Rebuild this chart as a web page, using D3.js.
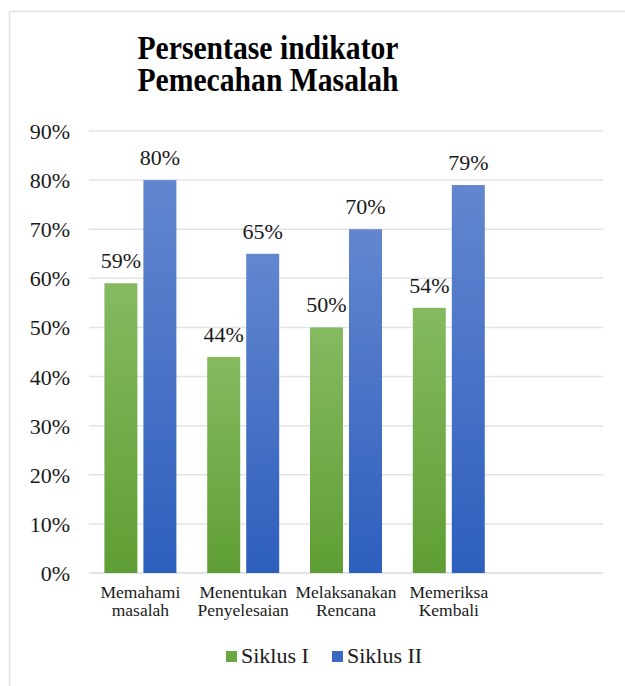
<!DOCTYPE html>
<html>
<head>
<meta charset="utf-8">
<script src="https://cdn.jsdelivr.net/npm/d3@7"></script>
<style>
  html, body { margin: 0; padding: 0; background: #ffffff; }
  svg { display: block; }
</style>
</head>
<body>
<svg id="chart" width="625" height="686"></svg>
<script>
// ---- data ----
const categories = [["Memahami", "masalah"], ["Menentukan", "Penyelesaian"], ["Melaksanakan", "Rencana"], ["Memeriksa", "Kembali"], [""]];
const seriesNames = ["Siklus I", "Siklus II"];
const siklus1 = [0.59, 0.44, 0.50, 0.54];
const siklus2 = [0.80, 0.65, 0.70, 0.79];
const yTicks = [0, 0.1, 0.2, 0.3, 0.4, 0.5, 0.6, 0.7, 0.8, 0.9];
const titleLines = ["Persentase indikator", "Pemecahan Masalah"];

const FONT = "'Liberation Serif', 'Times New Roman', serif";
const svg = d3.select("#chart");

// gradients
const defs = svg.append("defs");
const grads = [
  { id: "gGreen", top: "#85ba61", bottom: "#5f9e34" },
  { id: "gBlue", top: "#6386cf", bottom: "#2d5fbd" }
];
grads.forEach(g => {
  const lg = defs.append("linearGradient").attr("id", g.id)
    .attr("x1", 0).attr("y1", 0).attr("x2", 0).attr("y2", 1);
  lg.append("stop").attr("offset", "0%").attr("stop-color", g.top);
  lg.append("stop").attr("offset", "100%").attr("stop-color", g.bottom);
});

// chart border (extends beyond the window on right/bottom)
svg.append("rect")
  .attr("x", 9.5).attr("y", 11.5)
  .attr("width", 700).attr("height", 700)
  .attr("fill", "none").attr("stroke", "#dde1e6").attr("stroke-width", 1.5);

// scales
const x0 = d3.scaleBand().domain(d3.range(categories.length)).range([89, 603]).padding(0);
const x1 = d3.scaleBand().domain(seriesNames)
  .range([0, x0.bandwidth()]).paddingInner(0.154).paddingOuter(0.395);
const y = d3.scaleLinear().domain([0, 0.9]).range([573, 131]);

// gridlines
svg.append("g").selectAll("line").data(yTicks).join("line")
  .attr("x1", 89).attr("x2", 603)
  .attr("y1", d => y(d)).attr("y2", d => y(d))
  .attr("stroke", d => d === 0 ? "#d6dbe2" : "#e0e3e8")
  .attr("stroke-width", 1.5);

// y tick labels
svg.append("g").selectAll("text").data(yTicks).join("text")
  .attr("x", 70).attr("y", d => y(d) + 8)
  .attr("text-anchor", "end")
  .attr("font-family", FONT).attr("font-size", 22).attr("fill", "#1a1a1a")
  .text(d => d3.format(".0%")(d));

// bars
const rows = siklus1.map((v, i) => ({ i, values: [
  { s: seriesNames[0], v: v, fill: "url(#gGreen)" },
  { s: seriesNames[1], v: siklus2[i], fill: "url(#gBlue)" }
]}));

const groups = svg.append("g").selectAll("g").data(rows).join("g")
  .attr("transform", d => `translate(${x0(d.i)},0)`);

groups.selectAll("rect").data(d => d.values).join("rect")
  .attr("x", d => x1(d.s))
  .attr("width", x1.bandwidth())
  .attr("y", d => y(d.v))
  .attr("height", d => y(0) - y(d.v))
  .attr("fill", d => d.fill);

groups.selectAll("text").data(d => d.values).join("text")
  .attr("x", d => x1(d.s) + x1.bandwidth() / 2)
  .attr("y", d => y(d.v) - 15)
  .attr("text-anchor", "middle")
  .attr("font-family", FONT).attr("font-size", 22).attr("fill", "#1a1a1a")
  .text(d => d3.format(".0%")(d.v));

// category labels
const cat = svg.append("g").selectAll("text").data(categories).join("text")
  .attr("x", (d, i) => x0(i) + x0.bandwidth() / 2)
  .attr("y", 598)
  .attr("text-anchor", "middle")
  .attr("font-family", FONT).attr("font-size", 17.5).attr("fill", "#1a1a1a");
cat.selectAll("tspan").data(d => d).join("tspan")
  .attr("x", function() { return d3.select(this.parentNode).attr("x"); })
  .attr("dy", (d, j) => j === 0 ? 0 : 18)
  .text(d => d);

// title
svg.append("g").selectAll("text").data(titleLines).join("text")
  .attr("x", 268).attr("y", (d, i) => 59 + i * 32)
  .attr("text-anchor", "middle")
  .attr("font-family", FONT).attr("font-weight", "bold").attr("font-size", 34)
  .attr("textLength", 261).attr("lengthAdjust", "spacingAndGlyphs")
  .attr("fill", "#000")
  .text(d => d);

// legend
const legendX = [226, 332];
const legendColors = ["#6aa843", "#3c69c4"];
const lg = svg.append("g").selectAll("g").data(seriesNames).join("g")
  .attr("transform", (d, i) => `translate(${legendX[i]},651)`);
lg.append("rect").attr("width", 11).attr("height", 11)
  .attr("fill", (d, i) => legendColors[i]);
lg.append("text").attr("x", 15).attr("y", 12)
  .attr("font-family", FONT).attr("font-size", 22).attr("fill", "#1a1a1a")
  .text(d => d);
</script>
</body>
</html>
